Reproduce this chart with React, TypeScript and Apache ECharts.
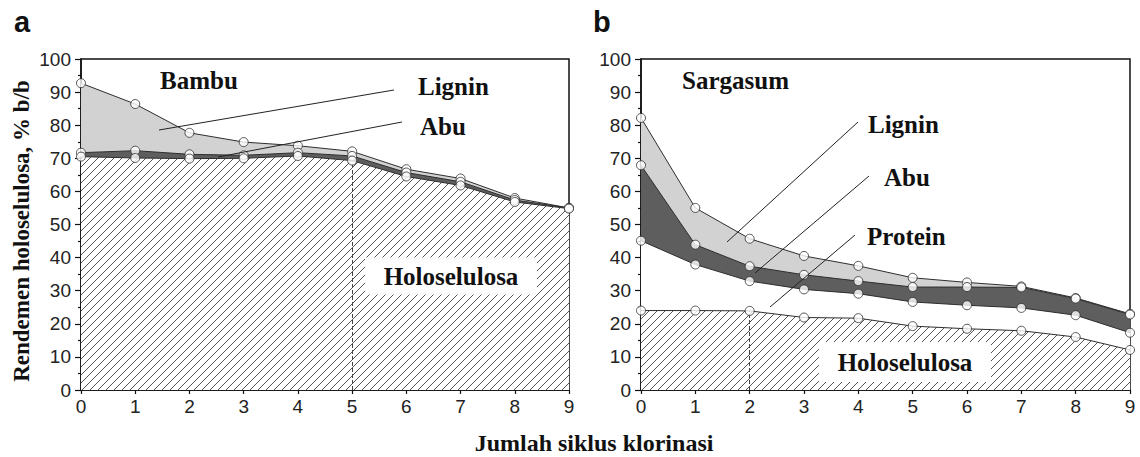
import React, { useEffect, useRef } from "react";
import * as echarts from "echarts";

const cycles = [0, 1, 2, 3, 4, 5, 6, 7, 8, 9];
const xTicks = ["0", "1", "2", "3", "4", "5", "6", "7", "8", "9"];

// Panel a (Bambu) – cumulative layer boundaries, % b/b
const ligninA = [92.7, 86.4, 77.7, 74.9, 73.8, 72.1, 66.7, 63.9, 58.0, 55.0];
const abuA = [71.7, 72.3, 71.2, 70.9, 71.7, 70.7, 65.7, 62.9, 57.4, 55.0];
const holoA = [70.5, 70.1, 69.9, 70.0, 70.7, 69.3, 64.5, 61.8, 56.8, 54.8];

// Panel b (Sargasum)
const ligninB = [82.2, 55.0, 45.7, 40.5, 37.5, 33.9, 32.5, 31.3, 27.8, 23.0];
const abuB = [67.9, 43.9, 37.4, 34.8, 32.9, 31.1, 31.1, 31.0, 27.6, 22.8];
const proteinB = [45.1, 37.9, 32.9, 30.4, 29.1, 26.6, 25.6, 24.8, 22.6, 17.3];
const holoB = [24.0, 24.0, 23.9, 21.9, 21.7, 19.3, 18.5, 17.9, 16.0, 12.1];

const dashedA = 5;
const dashedB = 2;

const SERIF = '"Liberation Serif", "Times New Roman", serif';
const SANS = '"Liberation Sans", Arial, sans-serif';
const LINE = "#2e2e2e";

function makeHatch(): HTMLCanvasElement {
  const c = document.createElement("canvas");
  c.width = 8;
  c.height = 8;
  const ctx = c.getContext("2d")!;
  ctx.fillStyle = "#fff";
  ctx.fillRect(0, 0, 8, 8);
  ctx.strokeStyle = "#555";
  ctx.lineWidth = 1;
  ctx.beginPath();
  ctx.moveTo(-1, 9);
  ctx.lineTo(9, -1);
  ctx.moveTo(-5, 5);
  ctx.lineTo(5, -5);
  ctx.moveTo(3, 13);
  ctx.lineTo(13, 3);
  ctx.stroke();
  return c;
}

function pts(arr: number[]) {
  return cycles.map((x, i) => [x, arr[i]]);
}

function areaSeries(idx: number, data: number[], fill: any, extra: any = {}) {
  return {
    type: "line",
    xAxisIndex: idx,
    yAxisIndex: idx,
    data: pts(data),
    showSymbol: false,
    symbol: "none",
    lineStyle: { color: LINE, width: 1 },
    areaStyle: { color: fill, opacity: 1, origin: "start" },
    silent: true,
    ...extra,
  };
}

function dotSeries(idx: number, data: number[]) {
  return {
    type: "scatter",
    xAxisIndex: idx,
    yAxisIndex: idx,
    data: pts(data),
    symbol: "circle",
    symbolSize: 9,
    itemStyle: { color: "#fff", borderColor: LINE, borderWidth: 1 },
    z: 10,
    silent: true,
  };
}

function dashed(idx: number, holo: number[], at: number) {
  return {
    symbol: "none",
    silent: true,
    label: { show: false },
    lineStyle: { type: "dashed", color: "#444", width: 1 },
    data: [[{ coord: [at, 0] }, { coord: [at, holo[cycles.indexOf(at)]] }]],
  };
}

function xAxis(idx: number) {
  return {
    type: "value",
    gridIndex: idx,
    min: 0,
    max: 9,
    interval: 1,
    axisLine: { show: true, lineStyle: { color: "#111", width: 1.5 } },
    axisTick: { show: true, length: 4, lineStyle: { color: "#111", width: 1.2 } },
    axisLabel: {
      fontSize: 19,
      fontFamily: SANS,
      color: "#222",
      margin: 7,
      formatter: (v: number) => xTicks[v] ?? "",
    },
    splitLine: { show: false },
  };
}

function yAxis(idx: number) {
  return {
    type: "value",
    gridIndex: idx,
    min: 0,
    max: 100,
    interval: 10,
    axisLine: { show: true, lineStyle: { color: "#111", width: 1.5 } },
    axisTick: { show: true, length: 6, lineStyle: { color: "#111", width: 1.2 } },
    minorTick: { show: true, splitNumber: 2, length: 3, lineStyle: { color: "#111", width: 1.2 } },
    axisLabel: { fontSize: 19, fontFamily: SANS, color: "#222", margin: 10 },
    splitLine: { show: false },
  };
}

function label(text: string, x: number, y: number, size = 25) {
  return {
    type: "text",
    x,
    y,
    z: 100,
    style: {
      text,
      font: `bold ${size}px ${SERIF}`,
      fill: "#111",
      align: "left",
      verticalAlign: "middle",
      textAlign: "left",
      textVerticalAlign: "middle",
    },
  };
}

function pointer(x1: number, y1: number, x2: number, y2: number) {
  return {
    type: "line",
    z: 100,
    shape: { x1, y1, x2, y2 },
    style: { stroke: "#222", lineWidth: 1 },
  };
}

function holoBox(cx: number, cy: number, w: number, h: number) {
  return [
    {
      type: "rect",
      z: 99,
      shape: { x: cx - w / 2, y: cy - h / 2, width: w, height: h },
      style: { fill: "#fff" },
    },
    {
      type: "text",
      x: cx,
      y: cy,
      z: 100,
      style: {
        text: "Holoselulosa",
        font: `bold 25px ${SERIF}`,
        fill: "#111",
        align: "center",
        verticalAlign: "middle",
        textAlign: "center",
        textVerticalAlign: "middle",
      },
    },
  ];
}

export default function App() {
  const ref = useRef<HTMLDivElement>(null);

  useEffect(() => {
    document.body.style.margin = "0";
    if (!ref.current) return;
    const chart = echarts.init(ref.current, undefined, { renderer: "svg" });
    const hatch = { image: makeHatch(), repeat: "repeat" };
    const light = "#d2d2d2";
    const dark = "#5e5e5e";

    const option: any = {
      animation: false,
      backgroundColor: "#fff",
      grid: [
        { left: 81, top: 59, width: 488, height: 331, show: true, borderColor: "#111", borderWidth: 1.5, backgroundColor: "transparent" },
        { left: 641, top: 59, width: 489, height: 331, show: true, borderColor: "#111", borderWidth: 1.5, backgroundColor: "transparent" },
      ],
      xAxis: [xAxis(0), xAxis(1)],
      yAxis: [yAxis(0), yAxis(1)],
      series: [
        areaSeries(0, ligninA, light),
        areaSeries(0, abuA, dark),
        areaSeries(0, holoA, hatch, { markLine: dashed(0, holoA, dashedA) }),
        dotSeries(0, ligninA),
        dotSeries(0, abuA),
        dotSeries(0, holoA),
        areaSeries(1, ligninB, light),
        areaSeries(1, abuB, dark),
        areaSeries(1, proteinB, "#fff"),
        areaSeries(1, holoB, hatch, { markLine: dashed(1, holoB, dashedB) }),
        dotSeries(1, ligninB),
        dotSeries(1, abuB),
        dotSeries(1, proteinB),
        dotSeries(1, holoB),
      ],
      graphic: [
        {
          type: "text",
          x: 14,
          y: 22,
          style: { text: "a", font: `bold 29px ${SANS}`, fill: "#111", align: "left", verticalAlign: "middle" },
        },
        {
          type: "text",
          x: 593,
          y: 22,
          style: { text: "b", font: `bold 29px ${SANS}`, fill: "#111", align: "left", verticalAlign: "middle" },
        },
        {
          type: "text",
          x: 21,
          y: 231,
          rotation: Math.PI / 2,
          style: {
            text: "Rendemen holoselulosa, % b/b",
            font: `bold 23px ${SERIF}`,
            fill: "#111",
            align: "center",
            verticalAlign: "middle",
          },
        },
        {
          type: "text",
          x: 594,
          y: 443,
          style: {
            text: "Jumlah siklus klorinasi",
            font: `bold 24px ${SERIF}`,
            fill: "#111",
            align: "center",
            verticalAlign: "middle",
          },
        },
        label("Bambu", 160, 80),
        label("Lignin", 418, 86),
        label("Abu", 420, 126),
        pointer(159, 130, 394, 90),
        pointer(218, 157, 402, 122),
        label("Sargasum", 682, 80),
        label("Lignin", 868, 124),
        label("Abu", 884, 177),
        label("Protein", 867, 236),
        pointer(727, 242, 858, 122),
        pointer(755, 273, 869, 176),
        pointer(770, 307, 855, 235),
        ...holoBox(451, 276, 172, 37),
        ...holoBox(905, 362, 172, 40),
      ],
    };
    chart.setOption(option);
    return () => chart.dispose();
  }, []);

  return <div ref={ref} style={{ width: 1140, height: 457 }} />;
}
